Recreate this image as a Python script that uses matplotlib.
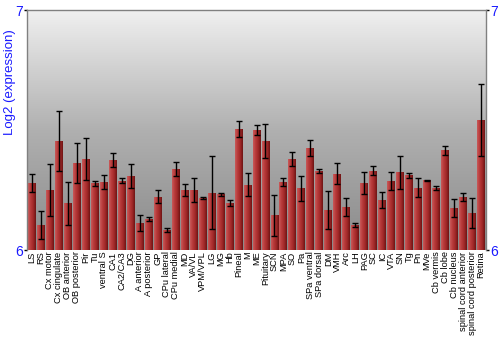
import numpy as np
import matplotlib
matplotlib.use("Agg")
import matplotlib.pyplot as plt
from matplotlib.colors import LinearSegmentedColormap

# Tissue names and log2 expression values
tissues = ["LS", "RS", "Cx motor", "Cx cingulate", "OB anterior", "OB posterior", "Pir", "Tu",
           "ventral S", "CA1", "CA2/CA3", "DG", "A anterior", "A posterior", "GP", "CPu lateral",
           "CPu medial", "MD", "VA/VL", "VPM/VPL", "LG", "MG", "Hb", "Pineal", "M", "ME",
           "Pituitary", "SCN", "MPA", "SO", "Pa", "SPa ventral", "SPa dorsal", "DM", "VMH", "Arc",
           "LH", "PAG", "SC", "IC", "VTA", "SN", "Tg", "Pn", "MVe", "Cb vermis", "Cb lobe",
           "Cb nucleus", "spinal cord anterior", "spinal cord posterior", "Retina"]

values = [6.278, 6.104, 6.250, 6.453, 6.195, 6.363, 6.378, 6.278,
          6.283, 6.375, 6.288, 6.308, 6.113, 6.129, 6.222, 6.083,
          6.339, 6.250, 6.250, 6.218, 6.239, 6.233, 6.196, 6.504, 6.271, 6.499,
          6.453, 6.144, 6.285, 6.380, 6.257, 6.424, 6.329, 6.167, 6.317, 6.178,
          6.104, 6.279, 6.331, 6.207, 6.288, 6.323, 6.311, 6.260, 6.290, 6.260, 6.415,
          6.175, 6.221, 6.154, 6.542]

errors = [0.037, 0.060, 0.110, 0.125, 0.090, 0.082, 0.087, 0.010,
          0.028, 0.028, 0.010, 0.050, 0.034, 0.007, 0.026, 0.010,
          0.029, 0.024, 0.052, 0.004, 0.153, 0.006, 0.011, 0.035, 0.048, 0.021,
          0.071, 0.086, 0.017, 0.028, 0.053, 0.033, 0.010, 0.078, 0.044, 0.037,
          0.009, 0.044, 0.017, 0.033, 0.037, 0.067, 0.010, 0.040, 0.002, 0.008, 0.020,
          0.036, 0.015, 0.062, 0.149]

ymin, ymax = 6, 7
blue = "#1a1aff"

fig = plt.figure(figsize=(5, 3.5), dpi=100)
ax = fig.add_axes([0.054, 0.2857, 0.918, 0.6857])

x = np.arange(len(tissues))
width = 0.88

# background: vertical gray gradient
bg = np.linspace(0, 1, 256).reshape(-1, 1)
bg_cmap = LinearSegmentedColormap.from_list("bg", ["#8a8a8a", "#b0b0b0", "#f0f0f0"])
ax.imshow(bg, cmap=bg_cmap, aspect="auto", extent=[0, 1, 0, 1],
          transform=ax.transAxes, origin="lower", zorder=0)

# bars with horizontal shading
bar_cmap = LinearSegmentedColormap.from_list("bar", ["#c85a5a", "#b83a3a", "#a02828", "#6e1414"])
grad = np.linspace(0, 1, 64).reshape(1, -1)
bars = ax.bar(x, np.array(values) - ymin, width=width, bottom=ymin,
              color="#a83030", zorder=2)
for b in bars:
    x0, y0 = b.get_x(), b.get_y()
    im = ax.imshow(grad, cmap=bar_cmap, aspect="auto", zorder=2.5,
                   extent=[x0, x0 + b.get_width(), y0, y0 + b.get_height()])
    im.set_clip_path(b)

ax.errorbar(x, values, yerr=errors, fmt="none", ecolor="black", elinewidth=1,
            capsize=2, capthick=1, zorder=3)

ax.set_xlim(-0.55, len(tissues) - 0.45)
ax.set_ylim(ymin, ymax)

ax.set_xticks(x)
ax.set_xticklabels(tissues, rotation=90, fontsize=6.7, family="Liberation Sans")
ax.tick_params(axis="x", length=0, pad=1)

ax.set_yticks([6, 7])
ax.set_yticklabels(["6", "7"], fontsize=10, color=blue, family="Liberation Sans")
ax.tick_params(axis="y", length=2, width=1, colors="black", labelcolor=blue,
               right=True, labelright=True, pad=1)
ax.set_ylabel("Log2 (expression)", fontsize=9.5, color=blue, family="Liberation Sans")
ax.yaxis.set_label_coords(-0.025, 0.70)

for side in ["left", "right", "top"]:
    ax.spines[side].set_color("#808080")
    ax.spines[side].set_linewidth(1)
ax.spines["bottom"].set_visible(False)

fig.savefig("out.png", dpi=100)
